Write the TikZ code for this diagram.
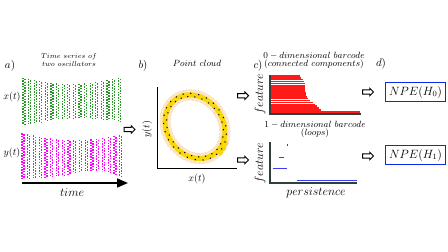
\documentclass[tikz,border=0pt]{standalone}
\usepackage{amsmath}
\usetikzlibrary{shapes.arrows, arrows.meta, positioning}
\definecolor{wavegreen}{HTML}{2A962A}
\definecolor{wavemag}{HTML}{FF00FF}
\definecolor{barred}{HTML}{FF1A1A}
\definecolor{barblue}{HTML}{3C3CF0}
\definecolor{axisdark}{HTML}{2F3F3F}
\definecolor{boxblue}{HTML}{0A28F0}
\definecolor{halofill}{HTML}{FDEBD3}
\definecolor{haloline}{HTML}{F8D3A8}
\definecolor{bandfill}{HTML}{F8D80A}

\begin{document}
\begin{tikzpicture}[x=1pt, y=-1pt,
    lab/.style={font=\fontsize{10}{12}\selectfont, inner sep=0pt},
    biglab/.style={font=\fontsize{12.5}{14}\selectfont, inner sep=0pt},
    ttl/.style={font=\fontsize{#1}{8}\selectfont, align=center, inner sep=0pt},
    panel/.style={font=\fontsize{11}{13}\selectfont, inner sep=0pt},
    hollowarr/.style={single arrow, draw, line width=0.9pt, fill=white,
                      minimum height=11pt, inner xsep=0pt, inner ysep=1.7pt,
                      single arrow head extend=1.7pt},
    npebox/.style={draw=boxblue, line width=1.2pt, minimum width=59pt,
                   minimum height=18pt, font=\fontsize{12}{14}\selectfont},
    gwave/.style={draw=wavegreen, line width=1.3pt, dash pattern=on 1.5pt off 1.3pt},
    mwave/.style={draw=wavemag, line width=1.3pt, dash pattern=on 1.5pt off 1.3pt},
    axisc/.style={draw=axisdark, line width=1.1pt},
    halo/.style={fill=halofill, draw=haloline, line width=0.3pt},
    band/.style={fill=bandfill}
]
\useasboundingbox (0,0) rectangle (448,252);

% a) time series
\node[panel] (pa) at (10,66) {$a)$};
\node[ttl=7.2] (ttla) at (69,60) {$Time\ series\ of$\\$two\ oscillators$};
\node[lab] (xlab) at (12,97) {$x(t)$};
\node[lab] (ylab) at (12,153) {$y(t)$};
\foreach \k in {0,...,17}{
  \pgfmathsetmacro{\wfr}{\k/17}
  \pgfmathsetmacro{\gx}{24+5.6*\k}
  \pgfmathsetmacro{\gtop}{77.5+6.5*sin(180*\wfr)}
  \pgfmathsetmacro{\gbot}{125-4*\wfr-5*sin(180*\wfr)}
  \draw[gwave] (\gx-1,\gtop) -- (\gx-1,\gbot);
  \draw[gwave] (\gx+1,\gtop+1.4) -- (\gx+1,\gbot);
  \pgfmathsetmacro{\mx}{23+5.75*\k}
  \pgfmathsetmacro{\mtop}{133+2*\wfr+6*sin(180*\wfr)}
  \pgfmathsetmacro{\mbot}{179-2*\wfr-7*sin(180*\wfr*\wfr)}
  \draw[mwave] (\mx-1,\mtop) -- (\mx-1,\mbot);
  \draw[mwave] (\mx+1,\mtop+1.4) -- (\mx+1,\mbot);
}
\coordinate (t0) at (22,183);
\coordinate (t1) at (128,183);
\draw[line width=1.6pt, -{Triangle[length=11pt, width=9pt]}] (t0) -- (t1);
\node[biglab] (tlab) at (72,193) {$time$};

\node[hollowarr] (arAB) at (128.5,129.5) {};

% b) point cloud
\node[panel] (pb) at (143,66) {$b)$};
\node[ttl=8.8] (ttlb) at (197,63) {$Point\ cloud$};
\coordinate (o) at (157,168);
\coordinate (oy) at (157,87);
\coordinate (ox) at (237,168);
\draw[line width=1pt] (oy) -- (o) -- (ox);
\node[lab, rotate=90] (ylabb) at (147,129) {$y(t)$};
\node[lab] (xlabb) at (197,179) {$x(t)$};
\begin{scope}[shift={(195,126.7)}, rotate=35]
  \foreach \t in {0,7.5,...,355}
    \path[halo] ({28*cos(\t)},{33.5*sin(\t)}) circle (5.5pt);
  \foreach \t in {0,5,...,355}
    \path[band] ({28*cos(\t)},{33.5*sin(\t)}) circle (2.8pt);
\end{scope}
\foreach \p in {(224,138),(225,143),(223,148),(220,152)}
  \path[band] \p circle (3.2pt);
\begin{scope}[shift={(195,126.7)}, rotate=35]
  \foreach \t [count=\i] in {0,7.2,...,356}{
    \pgfmathsetmacro{\s}{1+0.05*(2*mod(\i,2)-1)}
    \fill ({28*\s*cos(\t)},{33.5*\s*sin(\t)}) circle (0.8pt);
  }
\end{scope}

\node[hollowarr] (arBC0) at (242,95.7) {};
\node[hollowarr] (arBC1) at (242,160) {};

% c) barcodes
\node[panel] (pc) at (258,66) {$c)$};
\node[ttl=9.4] (ttlc0) at (314,60.5) {$0-dimensional\ barcode$\\$(connected\ components)$};
\foreach \r [count=\i from 0] in {300,301,303,304,305,305,305,305,305,305.5,306,306.7,308,310,313,315,317,318.5,321,360}
  \fill[barred] (270,{75+1.9*\i}) rectangle (\r,{76.6+1.9*\i});
\coordinate (c0t) at (270,75);
\coordinate (c0o) at (270,114);
\coordinate (c0r) at (361,114);
\draw[axisc] (c0t) -- (c0o) -- (c0r);
\node[biglab, rotate=90] (feat0) at (260,94) {$feature$};

\node[ttl=9.4] (ttlc1) at (315,129) {$1-dimensional\ barcode$\\$(loops)$};
\draw[barblue, line width=1.4pt] (286.7,145) -- (288.3,145);
\draw[barblue, line width=1.4pt] (279.3,157.3) -- (284.3,157.3);
\draw[barblue, line width=1.4pt] (272.7,168.7) -- (286.7,168.7);
\draw[barblue, line width=1.4pt] (296.7,180.7) -- (356.7,180.7);
\coordinate (c1t) at (270,142);
\coordinate (c1o) at (270,183);
\coordinate (c1r) at (357,183);
\draw[axisc] (c1t) -- (c1o) -- (c1r);
\node[biglab, rotate=90] (feat1) at (260,163) {$feature$};
\node[biglab] (perlab) at (316,193) {$persistence$};

\node[hollowarr] (arCD0) at (367,92) {};
\node[hollowarr] (arCD1) at (367,156) {};

% d) persistent entropy
\node[panel] (pd) at (381,64) {$d)$};
\node[npebox] (npe0) at (415.5,92) {$NPE(H_0)$};
\node[npebox] (npe1) at (415.5,155) {$NPE(H_1)$};
\end{tikzpicture}
\end{document}
